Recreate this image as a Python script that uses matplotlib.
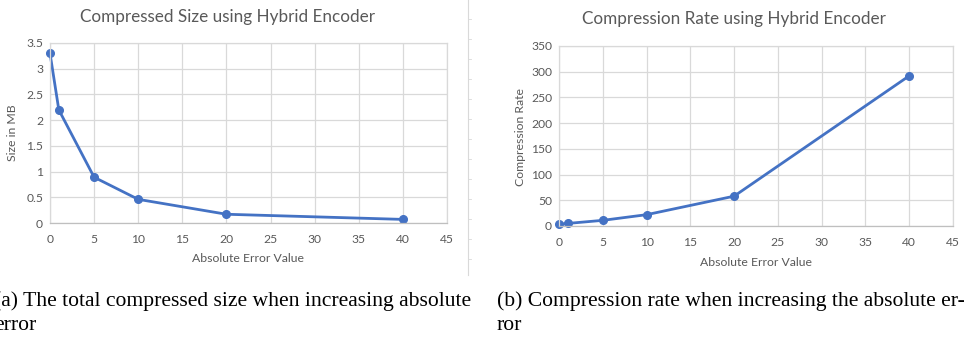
import matplotlib
matplotlib.use("Agg")
import matplotlib.pyplot as plt
from matplotlib.lines import Line2D

# data
err = [0, 1, 5, 10, 20, 40]
size_mb = [3.3, 2.2, 0.89, 0.46, 0.17, 0.07]
rate = [3.5, 5, 11, 22, 58, 292]

xticks = [0, 5, 10, 15, 20, 25, 30, 35, 40, 45]
size_ticks = [0, 0.5, 1, 1.5, 2, 2.5, 3, 3.5]
size_ticklabels = ["0", "0.5", "1", "1.5", "2", "2.5", "3", "3.5"]
rate_ticks = [0, 50, 100, 150, 200, 250, 300, 350]

W, H = 964, 339
blue = "#4472C4"
grey = "#595959"
gridc = "#d9d9d9"
sans = "Lato"

fig = plt.figure(figsize=(W / 100, H / 100), dpi=100)

def px(x0, y0, x1, y1):
    return [x0 / W, 1 - y1 / H, (x1 - x0) / W, (y1 - y0) / H]

def style(ax, yt, ylab=None):
    ax.set_xlim(0, 45)
    ax.set_xticks(xticks)
    ax.set_yticks(yt)
    if ylab:
        ax.set_yticklabels(ylab)
    ax.set_ylim(yt[0], yt[-1])
    ax.grid(True, color=gridc, lw=0.9)
    ax.set_axisbelow(True)
    for s in ax.spines.values():
        s.set_color(gridc)
        s.set_linewidth(0.9)
    ax.spines["bottom"].set_color("#bfbfbf")
    ax.tick_params(length=0, labelsize=8.7, colors=grey)
    ax.tick_params(axis="x", pad=8)
    ax.tick_params(axis="y", pad=5)
    for t in ax.get_xticklabels() + ax.get_yticklabels():
        t.set_fontfamily(sans)

ax1 = fig.add_axes(px(50, 43, 447, 223))
ax1.plot(err, size_mb, color=blue, lw=2, marker="o", ms=5.5, clip_on=False)
style(ax1, size_ticks, size_ticklabels)

ax2 = fig.add_axes(px(559, 46, 953, 226))
ax2.plot(err, rate, color=blue, lw=2, marker="o", ms=5.5, clip_on=False)
style(ax2, rate_ticks)

# chart titles and axis labels
fig.text(227 / W, 1 - 17 / H, "Compressed Size using Hybrid Encoder", ha="center", va="center",
         fontsize=12.3, color=grey, family=sans)
fig.text(734 / W, 1 - 19 / H, "Compression Rate using Hybrid Encoder", ha="center", va="center",
         fontsize=12.3, color=grey, family=sans)
fig.text(248 / W, 1 - 259 / H, "Absolute Error Value", ha="center", va="center",
         fontsize=8.8, color=grey, family=sans)
fig.text(756 / W, 1 - 262 / H, "Absolute Error Value", ha="center", va="center",
         fontsize=8.8, color=grey, family=sans)
fig.text(13 / W, 1 - 133 / H, "Size in MB", ha="center", va="center", rotation=90,
         fontsize=8.8, color=grey, family=sans)
fig.text(520 / W, 1 - 137 / H, "Compression Rate", ha="center", va="center", rotation=90,
         fontsize=8.8, color=grey, family=sans)

# separator between the two chart images, with its faint ruler ticks
sx = 468 / W
fig.add_artist(Line2D([sx, sx], [1 - 275 / H, 1], color=gridc, lw=0.8))
for yy in range(19, 275, 20):
    fig.add_artist(Line2D([sx, sx + 3 / W], [1 - yy / H, 1 - yy / H], color=gridc, lw=0.6))

# sub-captions
cap = dict(fontsize=15.6, family="Liberation Serif", color="black", va="center", ha="left")
fig.text(-6 / W, 1 - 301 / H, "(a) The total compressed size when increasing absolute", **cap)
fig.text(-6 / W, 1 - 326 / H, "error", **cap)
fig.text(497 / W, 1 - 301 / H, "(b) Compression rate when increasing the absolute er-", **cap)
fig.text(497 / W, 1 - 326 / H, "ror", **cap)

fig.savefig("out.png", dpi=100)
